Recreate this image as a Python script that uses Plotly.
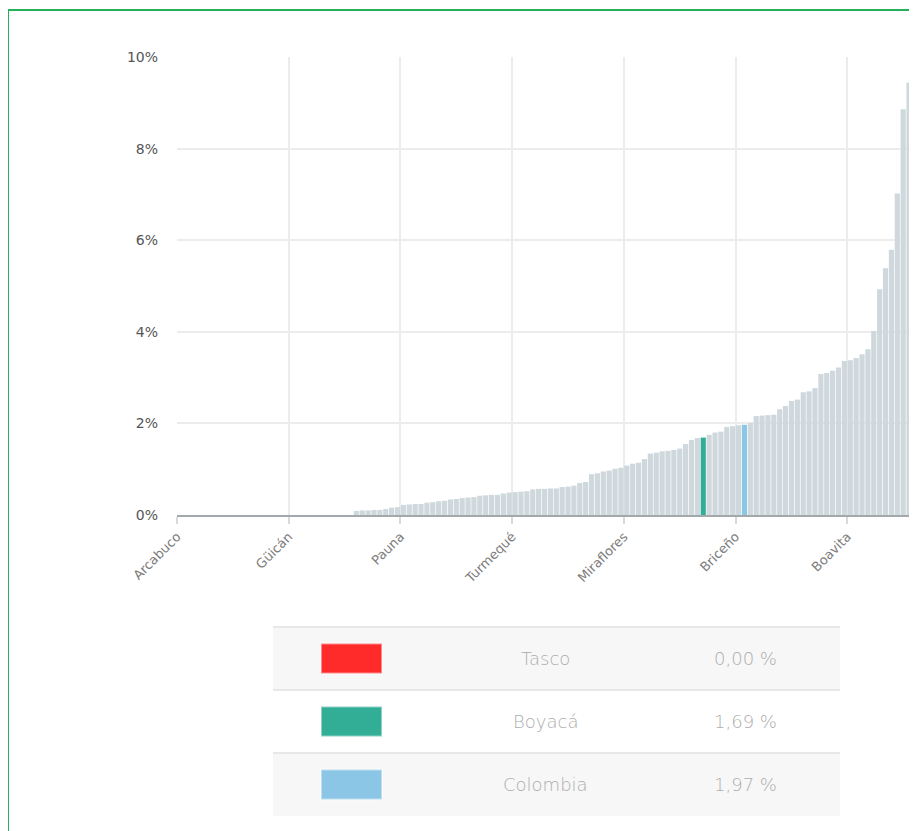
import plotly.graph_objects as go

# Datos: municipios de Boyacá ordenados de menor a mayor, más Boyacá y Colombia
municipios = [
    "Arcabuco", "Almeida", "Aquitania", "Belén", "Berbeo", "Betéitiva", "Boyacá (municipio)", "Tasco",
    "Buenavista", "Busbanzá", "Caldas", "Campohermoso", "Cerinza", "Chinavita", "Chiquinquirá", "Chiscas",
    "Chita", "Chitaraque", "Chivatá", "Güicán", "Chíquiza", "Chivor", "Ciénega", "Cómbita",
    "Coper", "Corrales", "Covarachía", "Cubará", "Cucaita", "Cuítiva", "Duitama", "El Cocuy",
    "El Espino", "Firavitoba", "Floresta", "Gachantivá", "Gámeza", "Garagoa", "Pauna", "Guacamayas",
    "Guateque", "Guayatá", "Iza", "Jenesano", "Jericó", "La Capilla", "La Uvita", "La Victoria",
    "Labranzagrande", "Macanal", "Maripí", "Mongua", "Monguí", "Moniquirá", "Motavita", "Muzo",
    "Nobsa", "Turmequé", "Nuevo Colón", "Oicatá", "Otanche", "Pachavita", "Páez", "Paipa",
    "Pajarito", "Panqueba", "Paya", "Paz de Río", "Pesca", "Pisba", "Puerto Boyacá", "Quípama",
    "Ramiriquí", "Ráquira", "Rondón", "Saboyá", "Miraflores", "Sáchica", "Samacá", "San Eduardo",
    "San José de Pare", "San Luis de Gaceno", "San Mateo", "San Miguel de Sema", "San Pablo de Borbur",
    "Santa María", "Santa Rosa de Viterbo", "Santa Sofía", "Santana", "Boyacá", "Sativanorte",
    "Sativasur", "Siachoque", "Soatá", "Socha", "Briceño", "Colombia", "Socotá", "Sogamoso",
    "Somondoco", "Sora", "Soracá", "Sotaquirá", "Susacón", "Sutamarchán", "Sutatenza", "Tenza",
    "Tibaná", "Tibasosa", "Tinjacá", "Tipacoque", "Toca", "Togüí", "Tópaga", "Boavita",
    "Tota", "Tunja", "Tunungua", "Tuta", "Tutazá", "Úmbita", "Ventaquemada", "Villa de Leyva",
    "Viracachá", "Zetaquira",
]

valores = [
    0, 0, 0, 0, 0, 0, 0, 0, 0, 0,
    0, 0, 0, 0, 0, 0, 0, 0, 0, 0,
    0, 0, 0, 0, 0, 0, 0, 0, 0, 0,
    0.09, 0.10, 0.10, 0.11, 0.11, 0.13, 0.16, 0.17, 0.22, 0.23,
    0.24, 0.24, 0.27, 0.28, 0.30, 0.31, 0.34, 0.35, 0.37, 0.38,
    0.39, 0.42, 0.43, 0.44, 0.44, 0.47, 0.49, 0.50, 0.51, 0.52,
    0.56, 0.57, 0.57, 0.58, 0.58, 0.61, 0.62, 0.64, 0.70, 0.72,
    0.89, 0.91, 0.95, 0.97, 1.01, 1.03, 1.08, 1.12, 1.14, 1.22,
    1.34, 1.36, 1.39, 1.40, 1.42, 1.45, 1.55, 1.64, 1.68, 1.69,
    1.75, 1.80, 1.82, 1.92, 1.94, 1.96, 1.97, 2.01, 2.16, 2.17,
    2.18, 2.19, 2.31, 2.38, 2.49, 2.52, 2.68, 2.70, 2.77, 3.08,
    3.10, 3.15, 3.22, 3.36, 3.38, 3.43, 3.51, 3.62, 4.02, 4.93,
    5.39, 5.79, 7.02, 8.86, 9.44,
]

# Resaltados (tabla inferior)
resaltados = ["Tasco", "Boyacá", "Colombia"]
colores_resaltados = ["#ff2a2a", "#33ae96", "#8cc6e6"]
COLOR_BASE = "#cfd8dc"

# cada 19 categorías una etiqueta
paso_etiquetas = 19
ticks_y = [0, 2, 4, 6, 8, 10]

# la página tiene 8 px de margen en el body
OFF = 8
W, H = 917 - OFF, 831 - OFF
L, R, T, B = 177 - OFF, 5, 57 - OFF, 316
PW, PH = W - L - R, H - T - B

FUENTE = "DejaVu Sans"


def px(x):
    # x en píxeles de la ventana -> coordenada paper
    return (x - OFF - L) / PW


def py(y):
    return (H - B - (y - OFF)) / PH


colores = [COLOR_BASE] * len(municipios)
for nombre, c in zip(resaltados, colores_resaltados):
    colores[municipios.index(nombre)] = c

posiciones = list(range(0, len(municipios), paso_etiquetas))

fig = go.Figure()
fig.add_trace(go.Bar(
    x=list(range(len(municipios))),
    y=valores,
    marker=dict(color=colores, line=dict(width=0)),
    customdata=municipios,
    hovertemplate='<b>%{customdata}</b><br>%{y:.2f} %<extra></extra>',
))

shapes = []
annotations = []

# marco verde
shapes.append(dict(type="rect", xref="paper", yref="paper",
                   x0=px(8), x1=px(940), y0=py(860), y1=py(10),
                   line=dict(color="#25b05c", width=2), fillcolor="rgba(0,0,0,0)", layer="below"))

# tabla de resaltados
fila_top = [627, 690, 753]
fila_h = 63
for i, (nombre, c) in enumerate(zip(resaltados, colores_resaltados)):
    y0 = fila_top[i]
    if i % 2 == 0:
        shapes.append(dict(type="rect", xref="paper", yref="paper",
                           x0=px(273), x1=px(840), y0=py(y0 + fila_h), y1=py(y0),
                           fillcolor="#f7f7f7", line=dict(width=0), layer="below"))
    shapes.append(dict(type="line", xref="paper", yref="paper",
                       x0=px(273), x1=px(840), y0=py(y0), y1=py(y0),
                       line=dict(color="#e8e8e8", width=2)))
    yc = y0 + fila_h / 2
    shapes.append(dict(type="rect", xref="paper", yref="paper",
                       x0=px(321), x1=px(382), y0=py(yc + 15), y1=py(yc - 15),
                       fillcolor=c, line=dict(color="rgba(255,255,255,0.45)", width=2)))
    valor = valores[municipios.index(nombre)]
    annotations.append(dict(xref="paper", yref="paper", x=px(545), y=py(yc),
                            text=nombre, showarrow=False, xanchor="center", yanchor="middle",
                            font=dict(family=FUENTE, size=18, color="#adadad", weight=200)))
    annotations.append(dict(xref="paper", yref="paper", x=px(745), y=py(yc),
                            text=f"{valor:.2f}".replace(".", ",") + " %", showarrow=False,
                            xanchor="center", yanchor="middle",
                            font=dict(family=FUENTE, size=18, color="#adadad", weight=200)))

fig.update_layout(
    width=W, height=H,
    margin=dict(l=L, r=R, t=T, b=B),
    paper_bgcolor="white",
    plot_bgcolor="white",
    showlegend=False,
    bargap=0.12,
    font=dict(family=FUENTE, size=12, color="#555"),
    shapes=shapes,
    annotations=annotations,
    xaxis=dict(
        range=[-0.5, len(municipios) - 0.5],
        tickmode="array",
        tickvals=[p - 0.5 for p in posiciones],
        ticktext=[municipios[p] for p in posiciones],
        tickangle=-45,
        tickfont=dict(family=FUENTE, size=13, color="#7d7d7d"),
        ticks="outside", ticklen=7, tickcolor="#d9d9d9", tickwidth=2,
        showgrid=True, gridcolor="#ececec", gridwidth=2,
        showline=True, linecolor="#a3a8aa", linewidth=2,
        zeroline=False, fixedrange=True,
    ),
    yaxis=dict(
        range=[0, 10],
        tickmode="array",
        tickvals=ticks_y,
        ticktext=[f"{v}%" for v in ticks_y],
        tickfont=dict(family=FUENTE, size=14, color="#555"),
        showgrid=True, gridcolor="#ececec", gridwidth=2,
        zeroline=False, showline=False,
        ticks="", ticklabelstandoff=18,
        fixedrange=True,
    ),
)

fig.write_html("out.html")
